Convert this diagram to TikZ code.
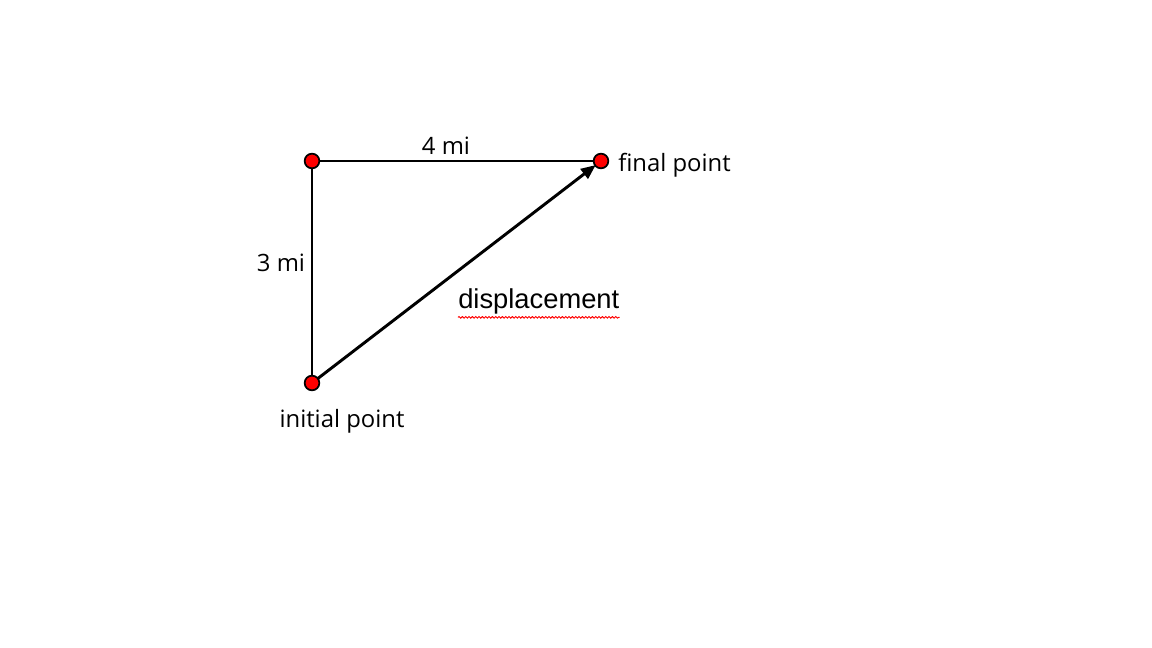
\documentclass[tikz,border=0pt]{standalone}
\usepackage{fontspec}
\setmainfont{Open Sans}
\newfontfamily\arialfont{Liberation Sans}
\usetikzlibrary{arrows.meta,decorations.pathmorphing}
\begin{document}
\begin{tikzpicture}[x=0.75pt,y=-0.75pt,
  dot/.style={circle,draw=black,fill=red,line width=1.3pt,minimum size=11pt,inner sep=0pt},
  seg/.style={line width=2.2pt,draw=black},
  lbl/.style={font=\fontsize{17.9}{20}\selectfont,inner sep=0pt}]
\path[use as bounding box] (0,0) rectangle (1152,648);
\coordinate (TL) at (312,161);
\coordinate (TR) at (601,161);
\coordinate (BL) at (312,383);
\draw[seg] (TL) -- (TR);
\draw[seg] (TL) -- (BL);
\draw[seg,-{Triangle[length=11pt,width=9pt]},shorten >=5pt] (BL) -- (TR);
\node[dot] (a) at (TL) {};
\node[dot] (b) at (TR) {};
\node[dot] (c) at (BL) {};
\node[lbl] (l4) at (446,146) {4 mi};
\node[lbl] (l3) at (281,263) {3 mi};
\node[lbl,anchor=west] (lf) at (618,165) {final point};
\node[lbl] (li) at (342,421) {initial point};
\node[font=\arialfont\fontsize{20.5}{23}\selectfont,inner sep=0pt,anchor=west] (ld) at (458,301) {displacement};
\draw[red,line width=0.7pt,decorate,decoration={snake,amplitude=0.6pt,segment length=2.5pt}]
  ([yshift=-2.5pt]ld.south west) -- ([yshift=-2.5pt]ld.south east);
\end{tikzpicture}
\end{document}
